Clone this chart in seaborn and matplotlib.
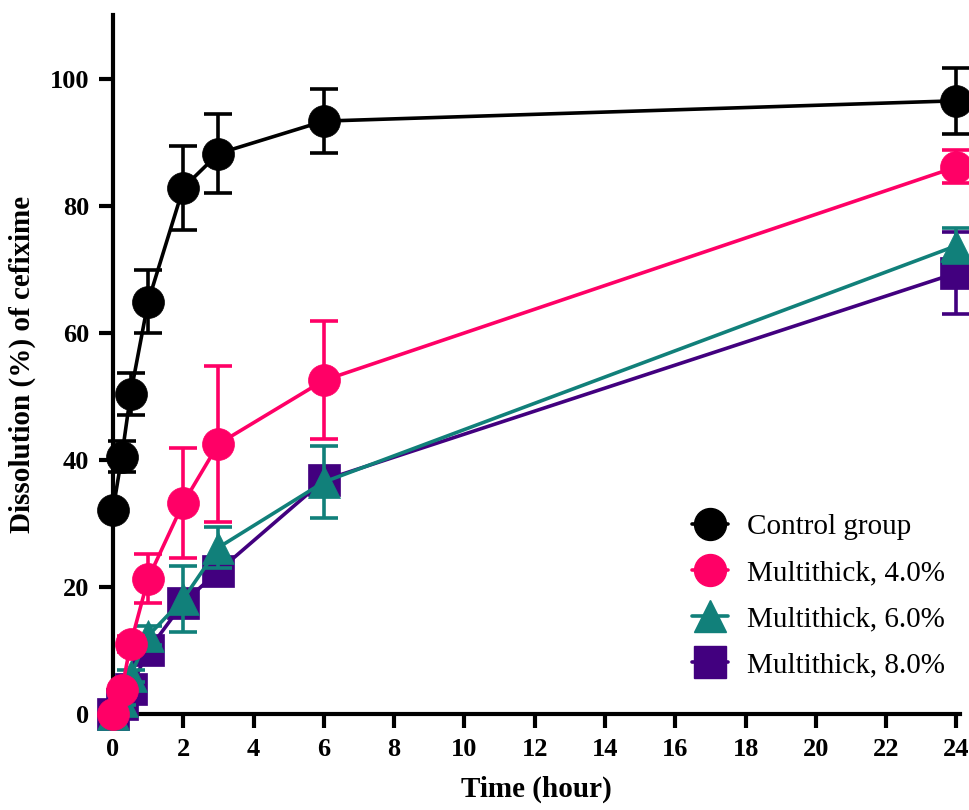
import matplotlib
matplotlib.use("Agg")
import matplotlib.pyplot as plt
import seaborn as sns
import pandas as pd
import numpy as np
from matplotlib.lines import Line2D

time_h = [0, 0.25, 0.5, 1, 2, 3, 6, 24]
series_names = ["Control group", "Multithick, 4.0%", "Multithick, 6.0%", "Multithick, 8.0%"]
control_mean = [32.1, 40.5, 50.3, 64.9, 82.8, 88.2, 93.3, 96.5]
control_sd = [0.5, 2.4, 3.3, 4.9, 6.6, 6.2, 5.0, 5.2]
mt4_mean = [0.0, 3.8, 11.0, 21.3, 33.2, 42.5, 52.5, 86.1]
mt4_sd = [0.3, 0.8, 1.2, 3.9, 8.7, 12.3, 9.3, 2.6]
mt6_mean = [0.0, 2.0, 6.0, 12.3, 18.1, 26.2, 36.5, 73.7]
mt6_sd = [0.3, 0.6, 1.0, 1.5, 5.2, 3.2, 5.7, 2.8]
mt8_mean = [0.0, 1.5, 4.0, 10.0, 17.5, 22.5, 36.8, 69.4]
mt8_sd = [0.3, 0.5, 0.8, 1.0, 1.5, 1.5, 1.5, 6.4]

colors = ["#000000", "#FF0066", "#11807A", "#42007F"]
markers = ["o", "o", "^", "s"]

means = [control_mean, mt4_mean, mt6_mean, mt8_mean]
sds = [control_sd, mt4_sd, mt6_sd, mt8_sd]

sns.set_theme(style="ticks")
plt.rcParams["font.family"] = ["Liberation Serif", "DejaVu Serif"]
plt.rcParams["text.color"] = "black"
plt.rcParams["axes.labelcolor"] = "black"

fig = plt.figure(figsize=(9.69, 8.10), dpi=100)
ax = fig.add_axes([0.1166, 0.1185, 0.8741, 0.863])

lw = 2.6
ms = 23
for i in [3, 2, 1, 0]:
    z = 2 + 2 * (3 - i)
    df = pd.DataFrame({"time": time_h, "value": means[i]})
    ax.errorbar(time_h, means[i], yerr=sds[i], fmt="none", ecolor=colors[i],
                elinewidth=lw, capsize=10, capthick=lw, clip_on=False, zorder=z)
    sns.lineplot(data=df, x="time", y="value", ax=ax, color=colors[i], linewidth=lw,
                 marker=markers[i], markersize=ms, markeredgewidth=0.5,
                 markeredgecolor=colors[i], clip_on=False, zorder=z + 1,
                 legend=False)

leg_handles = [Line2D([0], [0], color=colors[i], lw=lw, marker=markers[i], markersize=ms,
                      markeredgecolor=colors[i]) for i in range(4)]
ax.legend(leg_handles, series_names, loc="lower right", bbox_to_anchor=(1.0, 0.03),
          frameon=False, fontsize=21, handlelength=1.25, handletextpad=0.65,
          labelspacing=0.68, borderaxespad=0.1)

ax.set_xlim(0, 24.1)
ax.set_ylim(0, 110)
ax.set_xticks(np.arange(0, 25, 2))
ax.set_yticks(np.arange(0, 101, 20))
for s in ["top", "right"]:
    ax.spines[s].set_visible(False)
for s in ["left", "bottom"]:
    ax.spines[s].set_linewidth(3)
    ax.spines[s].set_color("black")
ax.tick_params(axis="both", direction="out", length=10, width=3, labelsize=19, colors="black", pad=7)
for lab in ax.get_xticklabels() + ax.get_yticklabels():
    lab.set_fontweight("bold")
ax.set_xlabel("Time (hour)", fontsize=21, fontweight="bold", labelpad=11, color="black")
ax.set_ylabel("Dissolution (%) of cefixime", fontsize=21, fontweight="bold", labelpad=10, color="black")

fig.savefig("out.png", dpi=100)
